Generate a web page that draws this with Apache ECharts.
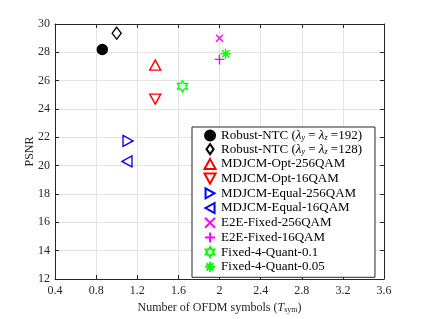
<!DOCTYPE html>
<html><head><meta charset="utf-8">
<script src="https://cdn.jsdelivr.net/npm/echarts@6/dist/echarts.min.js"></script>
<style>html,body{margin:0;padding:0;background:#fff}#c{width:425px;height:319px}</style>
</head><body><div id="c"></div>
<script>
// ---- data ----
const seriesNames = ['Robust-NTC-192','Robust-NTC-128','MDJCM-Opt-256QAM','MDJCM-Opt-16QAM','MDJCM-Equal-256QAM','MDJCM-Equal-16QAM','E2E-Fixed-256QAM','E2E-Fixed-16QAM','Fixed-4-Quant-0.1','Fixed-4-Quant-0.05'];
const xSymbols = [0.86, 1.0, 1.375, 1.375, 1.11, 1.1, 2.0, 2.0, 1.64, 2.06];
const yPSNR = [28.2, 29.35, 27.1, 24.7, 21.75, 20.3, 29.0, 27.5, 25.6, 27.9];
const xTicks = [0.4,0.8,1.2,1.6,2,2.4,2.8,3.2,3.6];
const yTicks = [12,14,16,18,20,22,24,26,28,30];

const FONT = 'Liberation Serif';
const hexPath = 'path://M0,-10L2.89,-5L8.66,-5L5.77,0L8.66,5L2.89,5L0,10L-2.89,5L-8.66,5L-5.77,0L-8.66,-5L-2.89,-5Z';
const styles = [
  {symbol:'circle', size:10, fill:'#000', stroke:'#000'},
  {symbol:'path://M0,-7L5,0L0,7L-5,0Z', size:[9,12], fill:'none', stroke:'#000'},
  {symbol:'path://M0,-5L5,4L-5,4Z', size:[11,10], fill:'none', stroke:'#ff0000'},
  {symbol:'path://M0,5L5,-4L-5,-4Z', size:[11,10], fill:'none', stroke:'#ff0000'},
  {symbol:'path://M-4,-5L5,0L-4,5Z', size:[10,11], fill:'none', stroke:'#0000ff'},
  {symbol:'path://M4,-5L-5,0L4,5Z', size:[10,11], fill:'none', stroke:'#0000ff'},
  {symbol:'path://M-5,-5L5,5M5,-5L-5,5', size:7, fill:'none', stroke:'#ff00ff'},
  {symbol:'path://M0,-5L0,5M-5,0L5,0', size:10, fill:'none', stroke:'#ff00ff'},
  {symbol:hexPath, size:[10,11], fill:'none', stroke:'#00ff00'},
  {symbol:'path://M0,-5L0,5M-5,0L5,0M-3.5,-3.5L3.5,3.5M3.5,-3.5L-3.5,3.5', size:10, fill:'none', stroke:'#00ff00'}
];
const legendLabels = {
  'Robust-NTC-192': '{n|Robust-NTC (}{i|λ}{s|y}{n| = }{i|λ}{s|z}{n| =192)}',
  'Robust-NTC-128': '{n|Robust-NTC (}{i|λ}{s|y}{n| = }{i|λ}{s|z}{n| =128)}'
};

const series = seriesNames.map((n,i)=>({
  name:n, type:'scatter', xAxisIndex:0, yAxisIndex:0,
  data:[[xSymbols[i], yPSNR[i]]],
  symbol:styles[i].symbol, symbolSize:styles[i].size,
  itemStyle:{color:styles[i].fill, borderColor:styles[i].stroke, borderWidth:1.4, opacity:1},
  emphasis:{disabled:true}
}));

const axisCommon = {
  axisLine:{show:true, lineStyle:{color:'#262626', width:1}},
  axisTick:{show:true, inside:true, length:4, lineStyle:{color:'#262626'}},
  axisLabel:{color:'#262626', fontFamily:FONT, fontSize:12},
};

const chart = echarts.init(document.getElementById('c'), null, {renderer:'canvas'});
chart.setOption({
  animation:false,
  backgroundColor:'#fff',
  grid:{left:55, top:24, right:41, bottom:36, show:false},
  xAxis:[
    Object.assign({}, axisCommon, {type:'value', position:'bottom', min:xTicks[0], max:xTicks[xTicks.length-1], interval:0.4,
      splitLine:{show:true, lineStyle:{color:'#e3e3e3', width:1}},
      axisLabel:Object.assign({}, axisCommon.axisLabel, {margin:6}),
      name:'{n|Number of OFDM symbols (}{i|T}{s|sym}{n|)}', nameLocation:'middle', nameGap:22, nameMoveOverlap:false,
      nameTextStyle:{lineHeight:13, rich:{n:{fontFamily:FONT,fontSize:12,color:'#262626',lineHeight:13}, i:{fontFamily:FONT,fontStyle:'italic',fontSize:12,color:'#262626',lineHeight:13}, s:{fontFamily:FONT,fontSize:8,color:'#262626',padding:[5,0,0,0],lineHeight:8}}}
    }),
    Object.assign({}, axisCommon, {type:'value', position:'top', min:xTicks[0], max:xTicks[xTicks.length-1], interval:0.4,
      splitLine:{show:false}, axisLabel:{show:false}})
  ],
  yAxis:[
    Object.assign({}, axisCommon, {type:'value', position:'left', min:yTicks[0], max:yTicks[yTicks.length-1], interval:2,
      splitLine:{show:true, lineStyle:{color:'#e3e3e3', width:1}},
      axisLabel:Object.assign({}, axisCommon.axisLabel, {margin:5}),
      name:'PSNR', nameLocation:'middle', nameGap:19, nameMoveOverlap:false,
      nameTextStyle:{fontFamily:FONT, fontSize:12, color:'#262626'}
    }),
    Object.assign({}, axisCommon, {type:'value', position:'right', min:yTicks[0], max:yTicks[yTicks.length-1], interval:2,
      splitLine:{show:false}, axisLabel:{show:false}})
  ],
  legend:{
    orient:'vertical', left:192, top:127,
    backgroundColor:'#fff', borderColor:'#262626', borderWidth:1,
    padding:[2,13,3,10], itemGap:-0.3, itemWidth:12, itemHeight:10,
    data:seriesNames, selectedMode:false,
    formatter:(n)=> legendLabels[n] || '{n|'+n+'}',
    textStyle:{fontFamily:FONT, fontSize:13, lineHeight:13, color:'#000',
      rich:{n:{fontFamily:FONT,fontSize:13,color:'#000',lineHeight:13},
            i:{fontFamily:FONT,fontSize:13,fontStyle:'italic',color:'#000',lineHeight:13},
            s:{fontFamily:FONT,fontSize:8,fontStyle:'italic',color:'#000',padding:[5,0,0,0],lineHeight:8}}}
  },
  series:series
});
</script></body></html>
